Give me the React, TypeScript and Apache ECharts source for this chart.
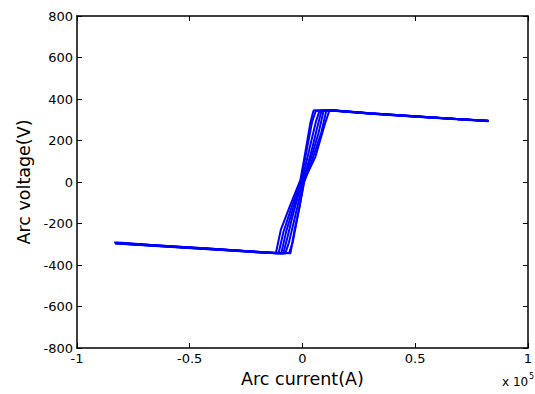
import React, { useEffect, useRef } from 'react';
import * as echarts from 'echarts';

// Arc current (A) vs arc voltage (V), several cycles of the pinched loop
const trace1 = [[-83500,-292],[-80000,-293],[-60000,-310],[-40000,-323],[-20000,-337],[-11800,-343],[-9600,-231],[-5700,-120],[-900,10],[900,120],[2200,202],[3500,284],[4800,340],[5200,346],[12000,344],[30000,330],[50000,316],[70000,302],[82500,294]];
const trace2 = [[-83000,-295],[-60000,-311],[-40000,-324],[-20000,-338],[-10600,-345],[-8400,-240],[-4900,-125],[-600,5],[1300,120],[2800,205],[4300,290],[5900,342],[12000,346],[30000,331],[50000,317],[70000,303],[82500,295]];
const trace3 = [[-83000,-294],[-60000,-309],[-40000,-322],[-20000,-336],[-9400,-344],[-7200,-238],[-4000,-122],[-200,3],[2200,118],[4200,210],[6000,292],[7600,344],[14000,343],[30000,329],[50000,315],[70000,301],[82500,293]];
const trace4 = [[-83000,-296],[-60000,-312],[-40000,-325],[-20000,-339],[-8500,-345],[-6500,-260],[-4500,-170],[-2000,-70],[0,0],[2000,70],[4500,170],[6500,260],[8500,345],[14000,345],[30000,331],[50000,317],[70000,303],[82500,295]];
const trace5 = [[-83000,-294],[-60000,-310],[-40000,-323],[-20000,-337],[-7600,-344],[-6000,-292],[-4200,-210],[-2200,-118],[200,-3],[4000,122],[7200,238],[9400,344],[14000,345],[30000,330],[50000,316],[70000,302],[82500,294]];
const trace6 = [[-83000,-295],[-60000,-311],[-40000,-324],[-20000,-338],[-5900,-342],[-4300,-290],[-2800,-205],[-1300,-120],[600,-5],[4900,125],[8400,240],[10600,345],[14000,346],[30000,331],[50000,317],[70000,303],[82500,295]];
const trace7 = [[-83000,-293],[-60000,-309],[-40000,-322],[-20000,-336],[-12000,-342],[-5300,-343],[-3500,-231],[-1300,-120],[900,10],[5700,120],[7900,202],[10100,284],[11800,340],[12500,346],[30000,330],[50000,316],[70000,302],[82500,294]];

const traces = [trace1, trace2, trace3, trace4, trace5, trace6, trace7];

const xTickValues = [-100000, -50000, 0, 50000, 100000];
const xTickLabels = ['-1', '-0.5', '0', '0.5', '1'];
const xName = 'Arc current(A)';
const yName = 'Arc voltage(V)';
const xExpBase = 'x 10';
const xExpPower = '5';

const FONT = 'DejaVu Sans';

export default function App() {
  const ref = useRef<HTMLDivElement>(null);
  useEffect(() => {
    document.body.style.margin = '0';
    const chart = echarts.init(ref.current!, null, { renderer: 'svg' });
    const axisLine = { show: true, onZero: false, lineStyle: { color: '#000', width: 1.5 } };
    const axisTick = { show: true, inside: true, length: 5, lineStyle: { color: '#000', width: 1 } };
    chart.setOption({
      animation: false,
      backgroundColor: '#fff',
      grid: { left: 77, top: 16, right: 2, bottom: 46, containLabel: false },
      xAxis: [
        {
          type: 'value', min: -100000, max: 100000, interval: 50000, position: 'bottom',
          axisLine, axisTick, splitLine: { show: false },
          axisLabel: {
            color: '#000', fontSize: 13, fontFamily: FONT, margin: 4,
            formatter: (v: number) => xTickLabels[xTickValues.indexOf(v)] ?? '',
          },
          name: xName, nameLocation: 'middle', nameGap: 21,
          nameTextStyle: { color: '#000', fontSize: 17.5, fontFamily: FONT },
        },
        {
          type: 'value', min: -100000, max: 100000, interval: 50000, position: 'top',
          axisLine, axisTick, splitLine: { show: false }, axisLabel: { show: false },
        },
      ],
      yAxis: [
        {
          type: 'value', min: -800, max: 800, interval: 200, position: 'left',
          axisLine, axisTick, splitLine: { show: false },
          axisLabel: { color: '#000', fontSize: 13, fontFamily: FONT, margin: 4 },
          name: yName, nameLocation: 'middle', nameGap: 44,
          nameTextStyle: { color: '#000', fontSize: 17.5, fontFamily: FONT },
        },
        {
          type: 'value', min: -800, max: 800, interval: 200, position: 'right',
          axisLine, axisTick, splitLine: { show: false }, axisLabel: { show: false },
        },
      ],
      graphic: [
        { type: 'text', left: 502, top: 376, style: { text: xExpBase, fill: '#000', font: `12px "${FONT}"` } },
        { type: 'text', left: 529, top: 372, style: { text: xExpPower, fill: '#000', font: `8px "${FONT}"` } },
      ],
      series: traces.map((d) => ({
        type: 'line', data: d, xAxisIndex: 0, yAxisIndex: 0,
        symbol: 'none', showSymbol: false, silent: true,
        lineStyle: { color: '#0000ff', width: 2 },
      })),
    });
    return () => chart.dispose();
  }, []);
  return <div ref={ref} style={{ width: 535, height: 394 }} />;
}
